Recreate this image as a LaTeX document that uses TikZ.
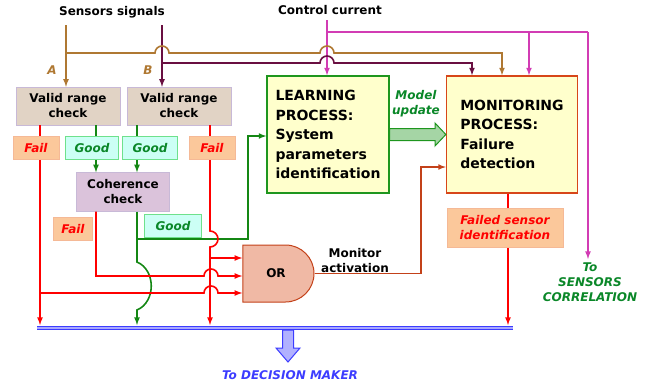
\documentclass[tikz,border=0pt]{standalone}
\usepackage{fontspec}
\setmainfont{DejaVu Sans}
\usetikzlibrary{shapes.gates.logic.US}

\definecolor{rangefill}{RGB}{225,211,197}
\definecolor{rangedraw}{RGB}{200,185,215}
\definecolor{cohfill}{RGB}{219,195,219}
\definecolor{failfill}{RGB}{251,200,155}
\definecolor{faildraw}{RGB}{245,185,150}
\definecolor{goodfill}{RGB}{204,255,245}
\definecolor{gooddraw}{RGB}{110,225,140}
\definecolor{procfill}{RGB}{255,255,204}
\definecolor{learndraw}{RGB}{30,150,30}
\definecolor{mondraw}{RGB}{215,70,25}
\definecolor{orfill}{RGB}{240,185,165}
\definecolor{ordraw}{RGB}{195,65,25}
\definecolor{senA}{RGB}{175,120,50}
\definecolor{senB}{RGB}{105,15,65}
\definecolor{ctlcol}{RGB}{210,60,180}
\definecolor{redl}{RGB}{255,0,0}
\definecolor{grnl}{RGB}{20,135,20}
\definecolor{txtgreen}{RGB}{10,135,40}
\definecolor{busblue}{RGB}{60,60,255}

\begin{document}
\begin{tikzpicture}[x=1pt,y=-1pt,>=latex,
  rangebox/.style={draw=rangedraw,fill=rangefill,minimum width=104pt,minimum height=38pt,
    align=center,inner sep=1pt,font=\fontsize{12}{15}\selectfont\bfseries},
  failbox/.style={draw=faildraw,fill=failfill,minimum width=46pt,minimum height=23pt,
    inner sep=1pt,text=redl,font=\fontsize{12}{15}\selectfont\bfseries\itshape},
  goodbox/.style={draw=gooddraw,fill=goodfill,minimum width=55pt,minimum height=23pt,
    inner sep=1pt,text=txtgreen,font=\fontsize{12}{15}\selectfont\bfseries\itshape},
  procbox/.style={fill=procfill,line width=1.3pt,minimum height=117pt,align=left,
    font=\fontsize{14}{19.5}\selectfont\bfseries},
  wire/.style={line width=1.6pt}]
\useasboundingbox (0,0) rectangle (657,389);

% blocks
\node[rangebox] (vrA) at (68,106) {Valid range\\check};
\node[rangebox] (vrB) at (179,106) {Valid range\\check};
\node[rangebox,fill=cohfill,minimum width=93pt,minimum height=39pt] (coh) at (123,192) {Coherence\\check};
\node[procbox,draw=learndraw,minimum width=122pt] (learn) at (328,134.5) {LEARNING\\PROCESS:\\System\\parameters\\identification};
\node[procbox,draw=mondraw,minimum width=131pt] (mon) at (512,134.5) {MONITORING\\PROCESS:\\Failure\\detection};
\node[and gate US,draw=ordraw,fill=orfill,line width=1pt,minimum width=40pt,minimum height=57pt,
  font=\fontsize{12}{15}\selectfont\bfseries] (or) at (276,273.5) {OR};

% sensor and control inputs
\coordinate (sA) at (66,25);
\coordinate (sB) at (162,25);
\coordinate (ctl) at (327,20);
\draw[wire,senA,->] (sA) -- (sA |- vrA.north);
\draw[wire,senB,->] (sB) -- (sB |- vrB.north);
\draw[wire,ctlcol,->] (ctl) -- (ctl |- learn.north);
\draw[wire,senA,->] (66,53) -- (155,53) arc[start angle=180,end angle=360,radius=7]
  -- (320,53) arc[start angle=180,end angle=360,radius=7] -- (502,53) -- (mon.north -| 502,0);
\draw[wire,senB,->] (162,63) -- (320,63) arc[start angle=180,end angle=360,radius=7]
  -- (472,63) -- (mon.north -| 472,0);
\node[font=\fontsize{12}{15}\selectfont\bfseries\itshape,text=txtgreen,align=center] (tosc) at (590,282) {To\\SENSORS\\CORRELATION};
\draw[wire,ctlcol] (327,32) -- (588,32);
\draw[wire,ctlcol,->] (588,32) -- (tosc.north -| 588,0);
\draw[wire,ctlcol,->] (529,32) -- (mon.north -| 529,0);

% good paths
\draw[wire,grnl,->] (vrA.south -| 96,0) -- (coh.north -| 96,0);
\draw[wire,grnl,->] (vrB.south -| 137,0) -- (coh.north -| 137,0);
\draw[wire,grnl,->] (coh.south -| 137,0) -- (137,239) -- (248,239) -- (248,136) -- (learn.west |- 0,136);
\draw[wire,grnl,->] (137,239) -- (137,262) .. controls (156,270) and (156,302) .. (137,310) -- (137,325);

% fail paths
\draw[wire,redl,->] (vrA.south -| 40,0) -- (40,325);
\draw[wire,redl,->] (40,293) -- (204,293) arc[start angle=180,end angle=360,radius=7] -- (or.west |- 0,293);
\draw[wire,redl,->] (coh.south -| 96,0) -- (96,276) -- (204,276) arc[start angle=180,end angle=360,radius=7] -- (or.west |- 0,276);
\draw[wire,redl,->] (vrB.south -| 210,0) -- (210,231) arc[start angle=270,end angle=450,radius=8] -- (210,325);
\draw[wire,redl,->] (210,258) -- (or.west |- 0,258);

% monitor activation and failed sensor
\draw[wire,ordraw,->] (or.east) -- (421,273.5) -- (421,167) -- (mon.west |- 0,167);
\draw[wire,redl,->] (mon.south -| 508,0) -- (508,325);
\node[failbox,fill=failfill,align=center,minimum width=116pt,minimum height=39pt] (fsid) at (505,227.5) {Failed sensor\\identification};

% labels on the wires
\node[failbox] (fA) at (36,148) {Fail};
\node[goodbox,minimum width=53pt] (gA) at (92,148) {Good};
\node[goodbox] (gB) at (150,148) {Good};
\node[failbox] (fB) at (212,148) {Fail};
\node[failbox,minimum width=39pt] (fC) at (73,229) {Fail};
\node[goodbox,minimum width=57pt] (gC) at (173,226) {Good};

% model update
\draw[learndraw,fill=learndraw!40,line width=1pt] (learn.east |- 0,128.5) -- (435,128.5) -- (435,123)
  -- (mon.west |- 0,134.5) -- (435,146) -- (435,140.5) -- (learn.east |- 0,140.5) -- cycle;
\node[font=\fontsize{12}{15}\selectfont\bfseries\itshape,text=txtgreen,align=center] (updtxt) at (416,104) {Model\\update};

% decision bus
\draw[busblue,line width=1.2pt,double=busblue!45,double distance=2.5pt] (37,328) -- (513,328);
\draw[busblue,fill=busblue!40,line width=1pt] (282.5,330) -- (293.5,330) -- (293.5,348) -- (300,348)
  -- (288,362) -- (276,348) -- (282.5,348) -- cycle;

% texts
\node[font=\fontsize{12}{15}\selectfont\bfseries] (sens) at (112,12) {Sensors signals};
\node[font=\fontsize{12}{15}\selectfont\bfseries] (ctltxt) at (330,10) {Control current};
\node[font=\fontsize{12}{15}\selectfont\bfseries\itshape,text=senA] (labA) at (52,70) {A};
\node[font=\fontsize{12}{15}\selectfont\bfseries\itshape,text=senA] (labB) at (148,70) {B};
\node[font=\fontsize{12}{15}\selectfont\bfseries,align=center] (mact) at (355,261) {Monitor\\activation};
\node[font=\fontsize{12}{15}\selectfont\bfseries\itshape,text=busblue] (dm) at (290,375) {To DECISION MAKER};
\end{tikzpicture}
\end{document}
